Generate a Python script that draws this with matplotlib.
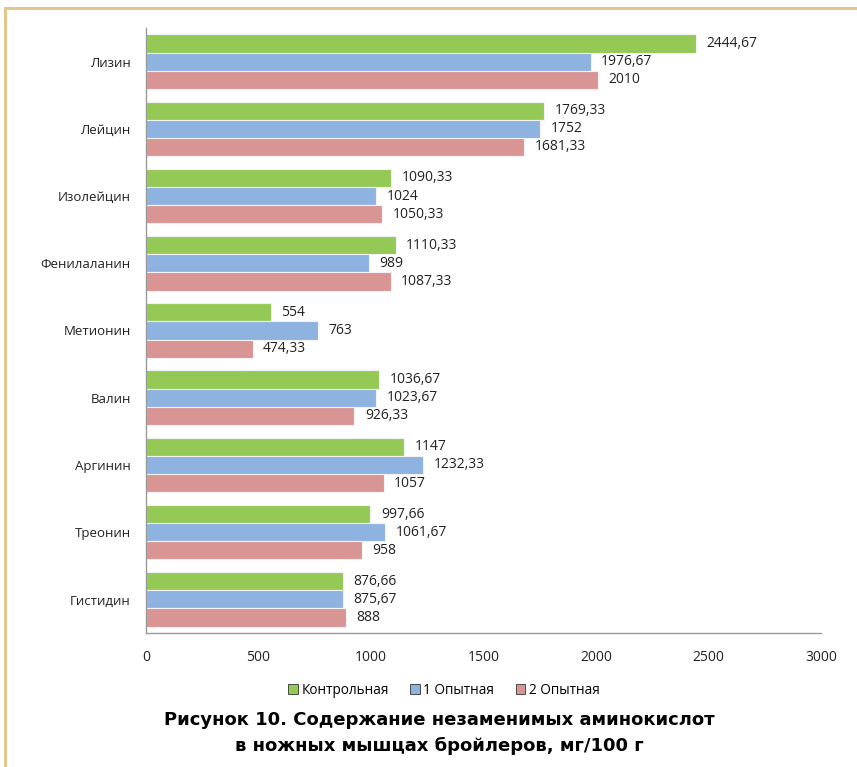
import matplotlib
matplotlib.use("Agg")
import matplotlib.pyplot as plt
import numpy as np
from matplotlib.patches import Rectangle
from matplotlib.lines import Line2D

categories = ["Лизин", "Лейцин", "Изолейцин", "Фенилаланин", "Метионин",
              "Валин", "Аргинин", "Треонин", "Гистидин"]
control = [2444.67, 1769.33, 1090.33, 1110.33, 554, 1036.67, 1147, 997.66, 876.66]
exp1 = [1976.67, 1752, 1024, 989, 763, 1023.67, 1232.33, 1061.67, 875.67]
exp2 = [2010, 1681.33, 1050.33, 1087.33, 474.33, 926.33, 1057, 958, 888]
series_names = ["Контрольная", "1 Опытная", "2 Опытная"]
colors = ["#95C955", "#8EB3E0", "#D99594"]
xticks = [0, 500, 1000, 1500, 2000, 2500, 3000]

def fmt(v):
    s = f"{v:.2f}".rstrip("0").rstrip(".")
    return s.replace(".", ",")

plt.rcParams['font.family'] = ['Open Sans', 'DejaVu Sans']

fig = plt.figure(figsize=(8.57, 7.67), dpi=100)
ax = fig.add_axes([146/857, 1-633/767, (821-146)/857, (633-28)/767])

n = len(categories)
y = np.arange(n)
h = 0.27
for i, (vals, c) in enumerate(zip([control, exp1, exp2], colors)):
    pos = y - h + i * h
    ax.barh(pos, vals, height=h, color=c, edgecolor="#F2F2F2", linewidth=0.8)
    for p, v in zip(pos, vals):
        ax.annotate(fmt(v), (v, p), xytext=(7.5, 0), textcoords="offset points",
                    va="center", ha="left", fontsize=10, color="#222222")

ax.set_ylim(n - 0.5, -0.5)
ax.set_xlim(0, 3000)
ax.set_xticks(xticks)
ax.set_xticklabels([str(t) for t in xticks], fontsize=10, color="#222222")
ax.set_yticks(y)
ax.set_yticklabels(categories, fontsize=9.5, color="#222222")
ax.tick_params(axis="y", length=0, pad=11)
ax.tick_params(axis="x", length=0, pad=12)
for s in ["top", "right"]:
    ax.spines[s].set_visible(False)
for s in ["left", "bottom"]:
    ax.spines[s].set_color("#9A9A9A")
    ax.spines[s].set_linewidth(1.0)

handles = [Rectangle((0, 0), 1, 1, facecolor=c, edgecolor="#333333", linewidth=0.6) for c in colors]
fig.legend(handles, series_names, loc="center", bbox_to_anchor=(0.518, 1-690/767),
           ncol=3, frameon=False, fontsize=9.8, handlelength=0.7, handleheight=0.7,
           handletextpad=0.25, columnspacing=1.6)

fig.text(0.513, 1-720/767, "Рисунок 10. Содержание незаменимых аминокислот",
         ha="center", va="center", fontsize=13, fontweight="bold", family="DejaVu Sans")
fig.text(0.513, 1-746/767, "в ножных мышцах бройлеров, мг/100 г",
         ha="center", va="center", fontsize=13, fontweight="bold", family="DejaVu Sans")

border = "#E2C98B"
fig.add_artist(Line2D([5/857, 1], [1-8/767, 1-8/767], color=border, linewidth=2.2, transform=fig.transFigure))
fig.add_artist(Line2D([5/857, 5/857], [1-8/767, 0], color=border, linewidth=2.2, transform=fig.transFigure))

fig.savefig("out.png", dpi=100)
